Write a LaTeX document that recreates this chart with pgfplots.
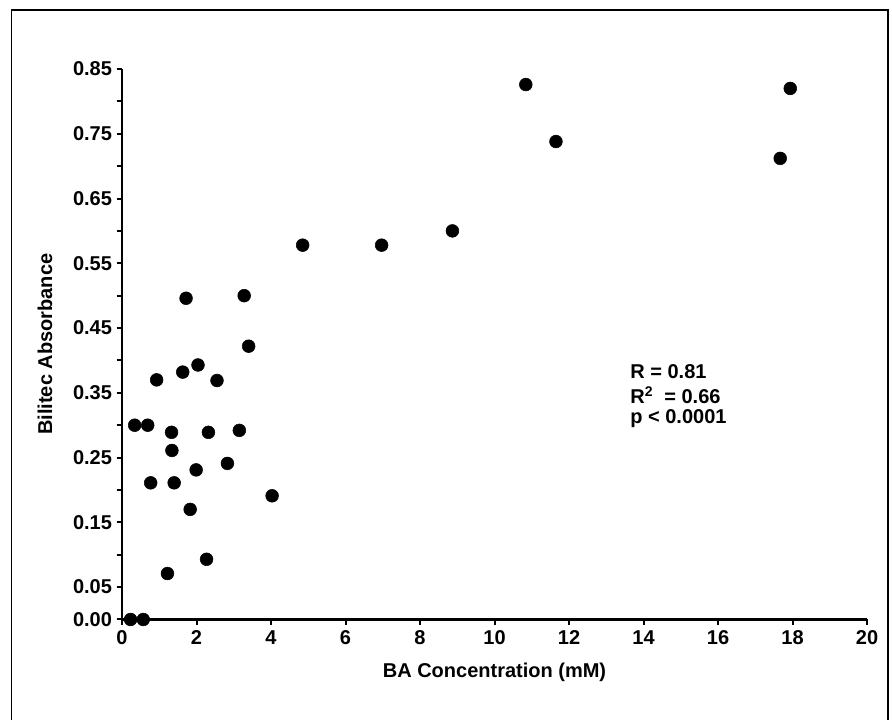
\documentclass[border=0pt]{standalone}
\usepackage{pgfplots}
\pgfplotsset{compat=1.18}
\usepackage{fontspec}
\setmainfont{Liberation Sans}

\begin{document}
\begin{tikzpicture}[x=1pt,y=1pt]
% page size 892x720 px at 0.75pt/px
\path[use as bounding box] (0,0) rectangle (669,540);
\draw[line width=1pt] (8.8,0) -- (8.8,532.5) -- (666,532.5) -- (666,0);

\begin{axis}[
    at={(91.5pt,75.375pt)},
    anchor=origin,
    scale only axis,
    width=558.75pt,
    height=412.875pt,
    xmin=0, xmax=20,
    ymin=0, ymax=0.85,
    axis x line=bottom,
    axis y line=left,
    axis line style={line width=1.8pt, -},
    tick align=outside,
    major tick length=4pt,
    minor tick length=4pt,
    tick style={line width=1.5pt, black},
    xtick={0,2,...,20},
    ytick={0,0.05,0.15,0.25,0.35,0.45,0.55,0.65,0.75,0.85},
    minor ytick={0.1,0.2,0.3,0.4,0.5,0.6,0.7,0.8},
    yticklabel style={/pgf/number format/.cd, fixed, fixed zerofill, precision=2},
    /pgf/number format/assume math mode=true,
    tick label style={font=\bfseries\fontsize{15}{17}\selectfont},
    xticklabel style={yshift=-1pt},
    xlabel={BA Concentration (mM)},
    ylabel={Bilitec Absorbance},
    label style={font=\bfseries\fontsize{15}{18}\selectfont},
    xlabel style={at={(axis description cs:0.5,-0.0954)}, anchor=center},
    ylabel style={at={(axis description cs:-0.1034,0.5)}, anchor=center},
    clip=false,
]
\addplot[only marks, mark=*, mark size=4.8pt, black] coordinates {
    (0.23,0.0) (0.57,0.0)
    (0.34,0.300) (0.69,0.300)
    (0.77,0.211) (0.93,0.370)
    (1.22,0.071) (1.33,0.289) (1.34,0.261) (1.40,0.211)
    (1.63,0.382) (1.72,0.496) (1.83,0.170) (1.99,0.231)
    (2.04,0.393) (2.27,0.093) (2.32,0.289) (2.55,0.369)
    (2.83,0.241) (3.15,0.292) (3.28,0.500) (3.40,0.422)
    (4.03,0.191) (4.85,0.578) (6.97,0.578) (8.87,0.600)
    (10.84,0.826) (11.65,0.738) (17.67,0.712) (17.94,0.820)
};
\node[anchor=west, inner sep=0pt, font=\bfseries\fontsize{15}{18}\selectfont] at (axis cs:13.64,0.3826) {R = 0.81};
\node[anchor=west, inner sep=0pt, font=\bfseries\fontsize{15}{18}\selectfont] at (axis cs:13.64,0.3467) {R\textsuperscript{2}\ \ = 0.66};
\node[anchor=west, inner sep=0pt, font=\bfseries\fontsize{15}{18}\selectfont] at (axis cs:13.64,0.3096) {p < 0.0001};
\end{axis}
\end{tikzpicture}
\end{document}
